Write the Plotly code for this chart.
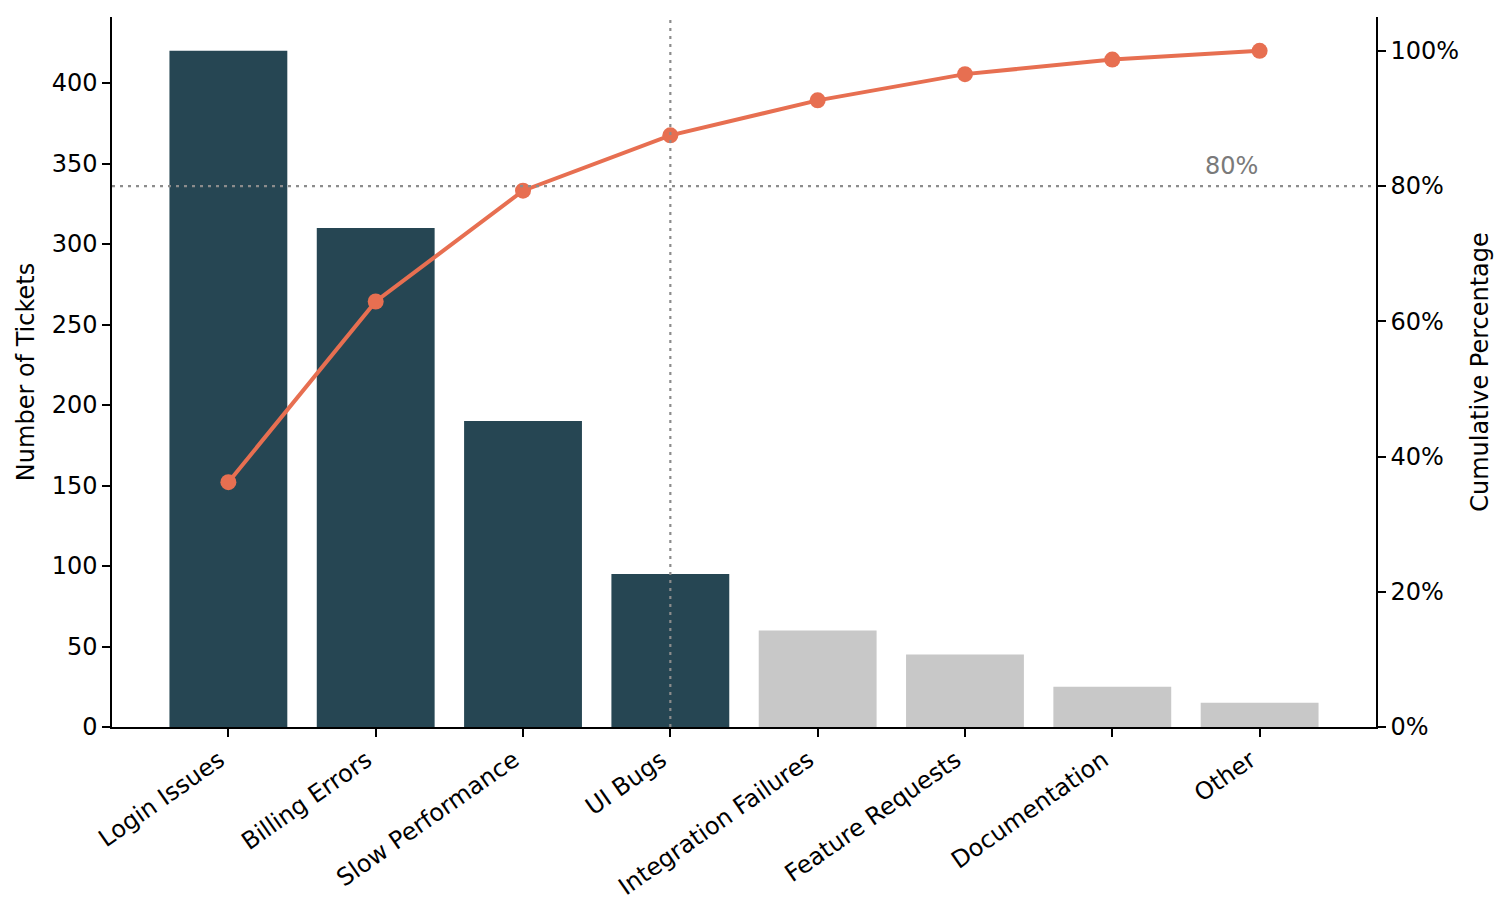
import plotly.graph_objects as go

CATEGORIES = [
    "Login Issues",
    "Billing Errors",
    "Slow Performance",
    "UI Bugs",
    "Integration Failures",
    "Feature Requests",
    "Documentation",
    "Other",
]
TICKETS = [420, 310, 190, 95, 60, 45, 25, 15]
THRESHOLD = 80

DARK = "#264653"
LIGHT = "#c8c8c8"
ORANGE = "#e76f51"
FONT = "DejaVu Sans"
FONT_SIZE = 24


def cumulative_percent(values):
    total = sum(values)
    out, running = [], 0
    for v in values:
        running += v
        out.append(running / total * 100)
    return out


cum_pct = cumulative_percent(TICKETS)
cutoff = next(i for i, p in enumerate(cum_pct) if p >= THRESHOLD)
bar_colors = [DARK if i <= cutoff else LIGHT for i in range(len(CATEGORIES))]
x_idx = list(range(len(CATEGORIES)))

fig = go.Figure()
fig.add_trace(
    go.Bar(
        x=x_idx,
        y=TICKETS,
        marker={"color": bar_colors, "line": {"width": 0}},
        showlegend=False,
    )
)
fig.add_trace(
    go.Scatter(
        x=x_idx,
        y=cum_pct,
        yaxis="y2",
        mode="lines+markers",
        line={"color": ORANGE, "width": 4},
        marker={"color": ORANGE, "size": 16},
        showlegend=False,
    )
)

dot_line = {"color": "#8c8c8c", "width": 2.2, "dash": "3px,5px"}
fig.add_shape(
    type="line", xref="paper", yref="y2", x0=0, x1=1,
    y0=THRESHOLD, y1=THRESHOLD, line=dot_line, layer="above",
)
fig.add_shape(
    type="line", xref="x", yref="paper", x0=cutoff, x1=cutoff,
    y0=0, y1=1, line=dot_line, layer="above",
)
fig.add_annotation(
    x=len(CATEGORIES) - 1, y=THRESHOLD, xref="x", yref="y2",
    text=f"{THRESHOLD}%", showarrow=False, xanchor="right", yanchor="bottom",
    yshift=4, font={"family": FONT, "size": FONT_SIZE, "color": "#7a7a7a"},
)

tick_font = {"family": FONT, "size": FONT_SIZE, "color": "black"}
axis_common = dict(
    showline=True, linecolor="black", linewidth=1.5, ticks="outside",
    ticklen=8, tickwidth=1.5, tickcolor="black", showgrid=False,
    zeroline=False, tickfont=tick_font,
)

# the page adds an 8px body margin, so the figure is sized to fit inside it
fig.update_layout(
    width=1494,
    height=902,
    margin={"l": 104, "r": 126, "t": 9, "b": 179},
    plot_bgcolor="white",
    paper_bgcolor="white",
    bargap=0.2,
    xaxis=dict(
        **axis_common,
        tickmode="array",
        tickvals=x_idx,
        ticktext=CATEGORIES,
        tickangle=-35,
        ticklabelshift=-9,
        range=[-0.79, len(CATEGORIES) - 0.21],
    ),
    yaxis=dict(
        **axis_common,
        range=[0, max(TICKETS) * 1.05],
        dtick=50,
        title={"text": "Number of Tickets", "standoff": 10, "font": tick_font},
    ),
    yaxis2=dict(
        **axis_common,
        overlaying="y",
        side="right",
        range=[0, 105],
        dtick=20,
        ticksuffix="%",
        title={"text": "Cumulative Percentage", "standoff": 13, "font": tick_font},
    ),
)

fig.write_html("out.html")
